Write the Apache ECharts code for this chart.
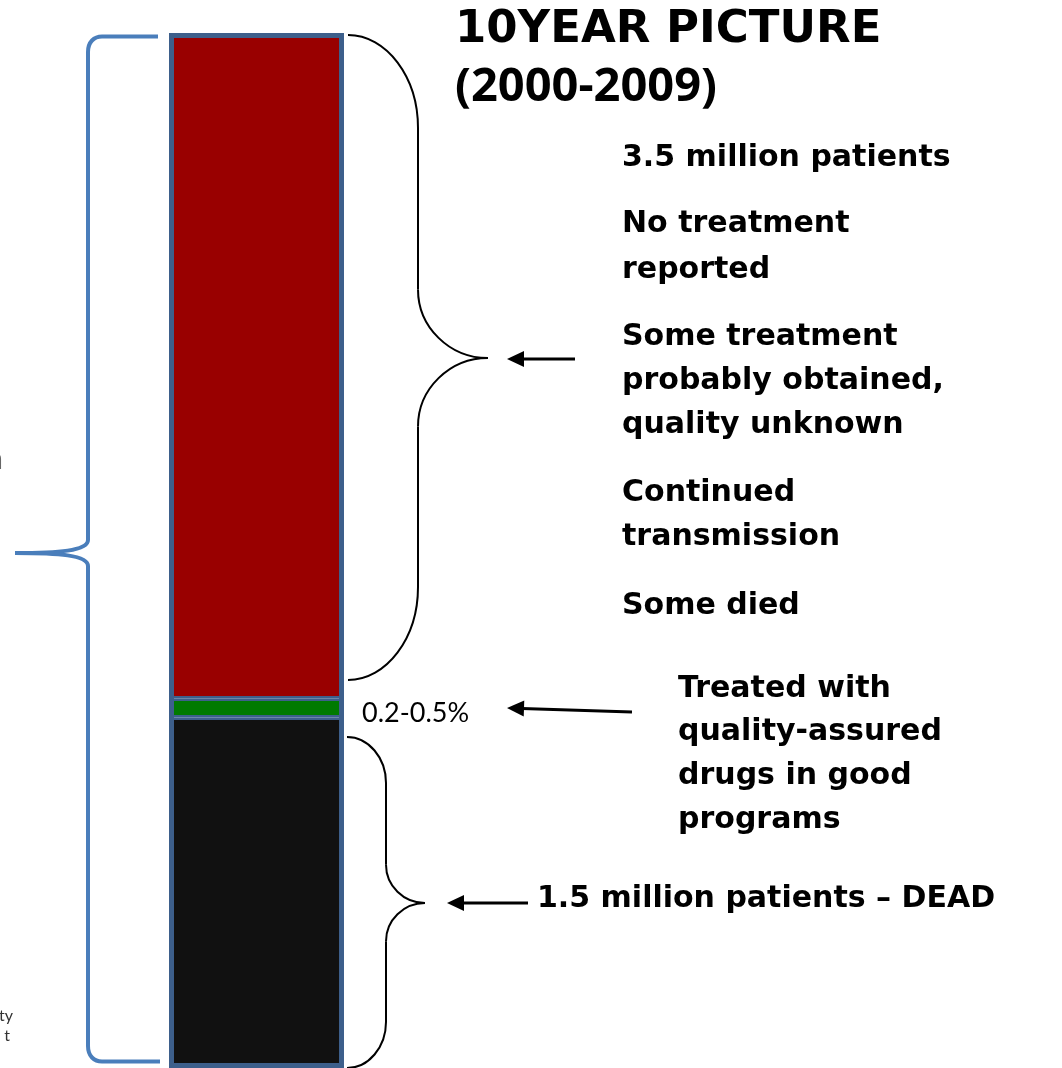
<!DOCTYPE html>
<html>
<head>
<meta charset="utf-8">
<script src="https://cdn.jsdelivr.net/npm/echarts@6/dist/echarts.min.js"></script>
<style>
  html, body { margin: 0; padding: 0; background: #ffffff; }
  #chart { width: 1062px; height: 1068px; }
</style>
</head>
<body>
<div id="chart"></div>
<script>
// ---- data (shares of the 10-year patient picture) ----
const categories = ['2000-2009'];
const deadShare = [33.86];        // black segment: 1.5 million patients – dead
const treatedShare = [1.83];      // green segment: treated with quality-assured drugs
const untreatedShare = [64.31];   // red segment: 3.5 million, no treatment reported
const totalShare = [deadShare[0] + treatedShare[0] + untreatedShare[0]];
const axisMax = 100;

// ---- texts ----
const titleLines = ['10YEAR PICTURE', '(2000-2009)'];
const untreatedNotes = ['3.5 million patients', 'No treatment', 'reported',
  'Some treatment', 'probably obtained,', 'quality unknown',
  'Continued', 'transmission', 'Some died'];
const treatedNotes = ['Treated with', 'quality-assured', 'drugs in good', 'programs'];
const deadNote = '1.5 million patients \u2013 DEAD';
const treatedPct = '0.2-0.5%';

// ---- layout helpers ----
const BODY_FONT = 'bold 30px "DejaVu Sans"';
const untreatedY = [158, 224, 270, 337, 381, 425, 493, 537, 606];
const treatedY = [689, 732, 776, 820];

function txt(text, x, y, font, color, align) {
  return {
    type: 'text', x: x, y: y, silent: true,
    style: { text: text, font: font, fill: color || '#000',
      align: align || 'left', verticalAlign: 'middle',
      textAlign: align || 'left', textVerticalAlign: 'middle' }
  };
}
function curve(p1, c1, c2, p2, color, w) {
  return { type: 'bezierCurve', silent: true,
    shape: { x1: p1[0], y1: p1[1], cpx1: c1[0], cpy1: c1[1], cpx2: c2[0], cpy2: c2[1], x2: p2[0], y2: p2[1] },
    style: { stroke: color, lineWidth: w, fill: 'none' } };
}
function seg(p1, p2, color, w) {
  return { type: 'line', silent: true,
    shape: { x1: p1[0], y1: p1[1], x2: p2[0], y2: p2[1] },
    style: { stroke: color, lineWidth: w } };
}
function arrow(tail, tip) {
  const dx = tip[0] - tail[0], dy = tip[1] - tail[1];
  const len = Math.sqrt(dx * dx + dy * dy), ux = dx / len, uy = dy / len;
  const hl = 17, hw = 8;
  const bx = tip[0] - ux * hl, by = tip[1] - uy * hl;
  return [
    seg(tail, [bx + ux * 2, by + uy * 2], '#000', 3),
    { type: 'polygon', silent: true,
      shape: { points: [tip, [bx - uy * hw, by + ux * hw], [bx + uy * hw, by - ux * hw]] },
      style: { fill: '#000' } }
  ];
}
// right-facing curly brace
function rightBrace(xEnd, yTop, xV, yTip, xTip, yBot, bend) {
  const c = '#000', w = 2;
  const r1 = bend;
  const a1 = yTop + r1, a2 = yTip - (xTip - xV) * 0.98;
  const b1 = yTip + (xTip - xV) * 0.98, b2 = yBot - r1;
  return [
    curve([xEnd, yTop], [xEnd + (xV - xEnd) * 0.55, yTop], [xV, a1 - r1 * 0.55], [xV, a1], c, w),
    seg([xV, a1], [xV, a2], c, w),
    curve([xV, a2], [xV, a2 + (yTip - a2) * 0.55], [xTip - (xTip - xV) * 0.55, yTip], [xTip, yTip], c, w),
    curve([xTip, yTip], [xTip - (xTip - xV) * 0.55, yTip], [xV, b1 - (b1 - yTip) * 0.55], [xV, b1], c, w),
    seg([xV, b1], [xV, b2], c, w),
    curve([xV, b2], [xV, b2 + r1 * 0.55], [xEnd + (xV - xEnd) * 0.55, yBot], [xEnd, yBot], c, w)
  ];
}

const BLUE = '#4a7ebb';
const leftBrace = [
  seg([158, 36.5], [102, 36.5], BLUE, 4),
  curve([102, 36.5], [94, 36.5], [88, 42], [88, 52], BLUE, 4),
  seg([88, 52], [88, 540], BLUE, 4),
  curve([88, 540], [88, 551], [58, 553], [15, 553], BLUE, 4),
  curve([15, 553], [58, 553], [88, 555], [88, 566], BLUE, 4),
  seg([88, 566], [88, 1046], BLUE, 4),
  curve([88, 1046], [88, 1056], [94, 1061.5], [102, 1061.5], BLUE, 4),
  seg([102, 1061.5], [160, 1061.5], BLUE, 4)
];

const elements = [].concat(
  leftBrace,
  rightBrace(348, 35, 418, 358, 488, 680, 93),
  rightBrace(347, 737, 386, 903, 425, 1068, 46),
  arrow([575, 359], [507, 359]),
  arrow([632, 712], [507, 708]),
  arrow([528, 903], [447, 903]),
  [txt(titleLines[0], 455, 30, 'bold 45px "DejaVu Sans"'),
   txt(titleLines[1], 455, 88, 'bold 47px "Open Sans"')],
  untreatedNotes.map((t, i) => txt(t, 622, untreatedY[i], BODY_FONT)),
  treatedNotes.map((t, i) => txt(t, 678, treatedY[i], BODY_FONT)),
  [txt(deadNote, 537, 899, BODY_FONT),
   txt(treatedPct, 362, 713, '27px Lato'),
   txt('n', 3, 459, '30px Lato', '#666', 'right'),
   txt('ty', 13, 1016, '16px Lato', '#333', 'right'),
   txt('t', 10, 1036, '16px Lato', '#333', 'right')]
);

const FRAME = '#3d5f8b';
const chart = echarts.init(document.getElementById('chart'), null, { renderer: 'canvas' });
const segStyle = (color) => ({ color: color, borderColor: FRAME, borderWidth: 2.5 });
chart.setOption({
  animation: false,
  backgroundColor: '#ffffff',
  grid: { left: 169, width: 175, top: 33, bottom: -3, containLabel: false },
  xAxis: { type: 'category', data: categories, show: false },
  yAxis: { type: 'value', min: 0, max: axisMax, show: false },
  series: [
    { name: 'Dead', type: 'bar', stack: 'all', barWidth: '100%', barGap: '-100%', clip: false, data: deadShare, itemStyle: segStyle('#111111') },
    { name: 'Treated, quality-assured', type: 'bar', stack: 'all', barWidth: '100%', barGap: '-100%', clip: false, data: treatedShare, itemStyle: segStyle('#007a00') },
    { name: 'No treatment reported', type: 'bar', stack: 'all', barWidth: '100%', barGap: '-100%', clip: false, data: untreatedShare, itemStyle: segStyle('#990000') },
    { name: 'Total', type: 'bar', barWidth: '100%', barGap: '-100%', clip: false, z: 5, silent: true, data: totalShare,
      itemStyle: { color: 'rgba(0,0,0,0)', borderColor: FRAME, borderWidth: 5 } }
  ],
  graphic: { elements: elements }
});
</script>
</body>
</html>
